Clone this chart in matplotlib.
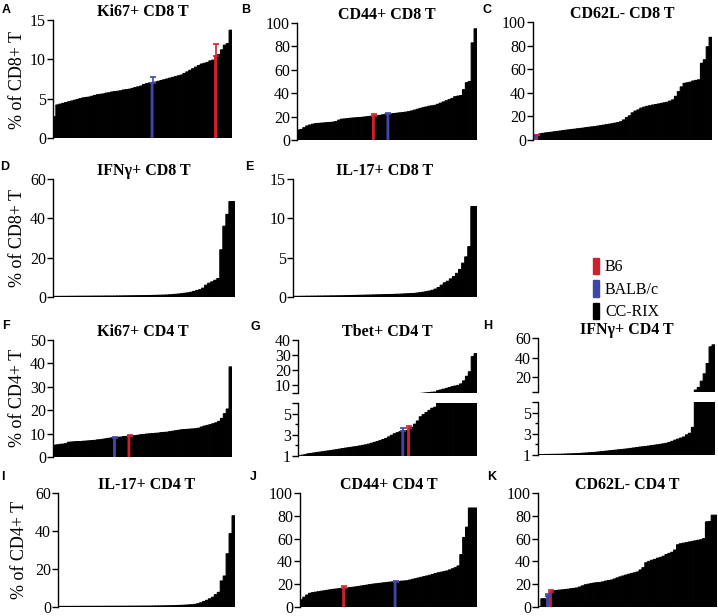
import numpy as np
import matplotlib
matplotlib.use('Agg')
import matplotlib.pyplot as plt
from matplotlib.patches import Patch

plt.rcParams['font.family'] = ['Liberation Serif', 'DejaVu Serif']

RED = '#d0202e'
BLUE = '#4046a8'
W, H = 718, 616

# CC-RIX line means, sorted; B6 and BALB/c given as (mean, sd)
ki67_cd8 = [2.7, 4.2, 4.3, 4.4, 4.5, 4.6, 4.7, 4.8, 4.9, 5.0, 5.1, 5.15, 5.2, 5.3, 5.4, 5.5,
            5.55, 5.6, 5.7, 5.75, 5.85, 5.9, 5.95, 6.0, 6.1, 6.15, 6.2, 6.3, 6.4, 6.5, 6.6,
            6.8, 6.9, 7.0, 7.1, 7.2, 7.3, 7.4, 7.5, 7.6, 7.7, 7.8, 7.9, 8.0, 8.2, 8.4, 8.6,
            8.8, 9.0, 9.2, 9.4, 9.5, 9.6, 9.8, 9.9, 10.6, 11.2, 11.8, 12.0, 13.7]
ki67_cd8_b6 = (10.4, 1.5)
ki67_cd8_balb = (7.0, 0.7)

cd44_cd8 = [8.5, 9, 10.5, 12, 12.8, 13.5, 14, 14.2, 14.4, 14.6, 14.8, 15, 15.3, 15.8, 17,
            17.8, 18, 18.3, 18.6, 18.8, 19, 19.2, 19.4, 19.7, 20, 20.3, 20.7, 21, 21.5, 22,
            22.3, 22.6, 22.9, 23.2, 23.5, 23.8, 24.2, 24.8, 25.5, 26.2, 27, 27.6, 28.2, 28.8,
            29.2, 29.6, 30.5, 31.5, 32.5, 33.5, 34.5, 35.5, 37, 37.5, 38, 43, 49, 50, 83, 95]
cd44_cd8_b6 = (20.5, 1.5)
cd44_cd8_balb = (22.2, 1.0)

cd62l_cd8 = [5.2, 5.6, 6, 6.3, 6.6, 7, 7.3, 7.6, 8, 8.3, 8.6, 8.9, 9.2, 9.5, 9.8, 10.1, 10.5,
             10.8, 11.1, 11.4, 11.8, 12.2, 12.6, 13, 13.4, 13.8, 14.3, 14.8, 15.5, 17, 19,
             20.5, 23, 24.5, 25.5, 27, 27.8, 28.5, 29, 29.6, 30, 30.5, 31, 31.5, 32, 33, 34,
             37, 41, 45, 48, 48.5, 49, 50, 50.5, 51, 65, 68, 79, 87]
cd62l_cd8_b6 = (4.0, 0.5)
cd62l_cd8_balb = (2.5, 0.5)

ifng_cd8 = [0.3, 0.3, 0.32, 0.33, 0.34, 0.35, 0.36, 0.37, 0.38, 0.39, 0.4, 0.41, 0.42, 0.43,
            0.44, 0.45, 0.46, 0.47, 0.48, 0.49, 0.5, 0.52, 0.54, 0.56, 0.58, 0.6, 0.62, 0.64,
            0.66, 0.68, 0.7, 0.74, 0.78, 0.82, 0.86, 0.9, 0.95, 1.0, 1.1, 1.2, 1.35, 1.5, 1.7,
            1.9, 2.1, 2.4, 2.8, 3.3, 3.7, 4.5, 6, 7, 7.7, 8.5, 9.4, 24, 36, 42, 48.5, 48.5]

il17_cd8 = [0.08, 0.08, 0.09, 0.09, 0.1, 0.1, 0.11, 0.11, 0.12, 0.12, 0.13, 0.13, 0.14, 0.14,
            0.15, 0.15, 0.16, 0.17, 0.18, 0.19, 0.2, 0.21, 0.22, 0.23, 0.24, 0.25, 0.26, 0.27,
            0.28, 0.29, 0.3, 0.31, 0.32, 0.34, 0.35, 0.37, 0.39, 0.41, 0.43, 0.45, 0.5, 0.55,
            0.6, 0.67, 0.75, 0.85, 1.0, 1.2, 1.5, 1.8, 2.0, 2.3, 2.6, 3.0, 3.5, 4.3, 5.1, 6.4,
            11.5, 11.5]

ki67_cd4 = [5, 5.2, 5.4, 5.5, 5.7, 6.3, 6.4, 6.5, 6.6, 6.6, 6.7, 6.8, 6.9, 7.0, 7.1, 7.3, 7.4,
            7.6, 7.8, 8.0, 8.2, 8.4, 8.5, 8.7, 8.8, 9.0, 9.1, 9.3, 9.5, 9.6, 9.8, 9.9, 10.0,
            10.1, 10.2, 10.4, 10.5, 10.6, 10.8, 11.0, 11.2, 11.4, 11.6, 11.7, 11.8, 11.9, 12.0,
            12.1, 12.3, 12.8, 13.2, 13.5, 13.8, 14.2, 14.6, 15.2, 16.5, 18.5, 20.5, 38.5]
ki67_cd4_b6 = (8.8, 0.6)
ki67_cd4_balb = (8.3, 0.4)

tbet_cd4 = [1.02, 1.08, 1.12, 1.2, 1.24, 1.28, 1.32, 1.36, 1.4, 1.44, 1.48, 1.52, 1.56, 1.6,
            1.65, 1.7, 1.74, 1.78, 1.82, 1.86, 1.9, 1.95, 2.0, 2.05, 2.12, 2.2, 2.28, 2.36,
            2.45, 2.55, 2.65, 2.8, 2.95, 3.1, 3.2, 3.3, 3.4, 3.7, 4.0, 4.3, 4.7, 4.9, 5.1, 5.3,
            5.5, 5.6, 6.5, 7.0, 7.5, 8.0, 8.6, 9.2, 9.6, 10.0, 11.0, 13.0, 16.0, 19.0, 29.0, 31.0]
tbet_cd4_b6 = (3.6, 0.25)
tbet_cd4_balb = (3.35, 0.3)

ifng_cd4 = [1.04, 1.04, 1.05, 1.05, 1.06, 1.06, 1.07, 1.07, 1.08, 1.09, 1.1, 1.11, 1.12, 1.13,
            1.15, 1.17, 1.19, 1.21, 1.23, 1.25, 1.28, 1.31, 1.34, 1.37, 1.4, 1.43, 1.46, 1.49,
            1.52, 1.55, 1.58, 1.62, 1.66, 1.7, 1.74, 1.77, 1.8, 1.84, 1.88, 1.92, 1.96, 2.0,
            2.05, 2.1, 2.18, 2.28, 2.4, 2.5, 2.6, 2.7, 2.9, 3.05, 3.6, 7.0, 9.6, 16, 23.5, 34,
            51, 53]

il17_cd4 = [0.3, 0.3, 0.3, 0.31, 0.31, 0.32, 0.32, 0.33, 0.33, 0.34, 0.34, 0.35, 0.35, 0.36,
            0.36, 0.37, 0.37, 0.38, 0.38, 0.39, 0.39, 0.4, 0.4, 0.41, 0.42, 0.43, 0.44, 0.45,
            0.46, 0.47, 0.48, 0.5, 0.52, 0.54, 0.56, 0.58, 0.6, 0.64, 0.68, 0.72, 0.78, 0.85, 0.9,
            1.0, 1.1, 1.2, 1.4, 1.7, 2.2, 2.9, 3.5, 4.3, 5.1, 6.5, 7.7, 13.7, 16.3, 28, 38.6, 48]

cd44_cd4 = [6.3, 8.6, 10.5, 12, 12.6, 13, 13.4, 13.8, 14.2, 14.6, 15, 15.4, 15.7, 16, 16.3,
            16.6, 17, 17.3, 17.6, 18, 18.4, 18.8, 19.2, 19.6, 20, 20.3, 20.6, 20.9, 21.2, 21.5,
            21.8, 22, 22.3, 22.6, 22.8, 23, 23.6, 24.2, 24.8, 25.4, 26, 26.6, 27.2, 27.8, 28.5,
            29.3, 30, 30.5, 31, 31.6, 32.5, 33.5, 34.5, 36, 46, 61, 70, 86.8, 86.8, 86.8]
cd44_cd4_b6 = (16.4, 1.6)
cd44_cd4_balb = (22.1, 1.0)

cd62l_cd4 = [0.3, 7.2, 7.2, 14.2, 14.5, 14.8, 15, 15.3, 15.6, 16, 16.3, 16.7, 17.5, 18.5, 19.5,
             20, 20.5, 21, 21.3, 21.5, 22, 22.7, 23.2, 23.6, 24.5, 25.5, 26.4, 27.2, 28, 28.7,
             29.4, 30, 30.7, 32.5, 34.5, 38.8, 40, 41, 41.7, 42.8, 43.5, 44.5, 46, 47, 48, 50,
             54.6, 55.5, 56, 56.5, 57, 57.5, 58, 58.5, 59, 60, 74.7, 75, 80.5, 80.5]
cd62l_cd4_b6 = (13.0, 1.5)
cd62l_cd4_balb = (10.0, 1.0)


def px(l, r, t, b):
    return [l / W, 1 - b / H, (r - l) / W, (b - t) / H]


def draw(ax, cc, b6=None, balb=None):
    vals = list(cc)
    kinds = ['cc'] * len(cc)
    if b6 is not None:
        vals.append(b6[0]); kinds.append('b6')
    if balb is not None:
        vals.append(balb[0]); kinds.append('balb')
    order = np.argsort(vals, kind='stable')
    v = np.array(vals)[order]
    k = [kinds[i] for i in order]
    col = {'cc': 'black', 'b6': RED, 'balb': BLUE}
    c = [col[i] for i in k]
    x = np.arange(len(v))
    bars = ax.bar(x, v, width=1.0, align='edge', color=c, edgecolor=c, linewidth=0.8)
    for b in bars:
        b.set_snap(False)
    for name, d in (('b6', b6), ('balb', balb)):
        if d is None:
            continue
        i = k.index(name)
        ax.errorbar(i + 0.5, d[0], yerr=[[0], [d[1]]], fmt='none', ecolor=col[name],
                    capsize=2.5, elinewidth=1.2, capthick=1.2)
    ax.set_xlim(0, len(v))


def style(ax, ylim, ticks, labels=None, hide=('top', 'right', 'bottom')):
    ax.set_ylim(*ylim)
    ax.set_yticks(ticks)
    if labels is not None:
        ax.set_yticklabels(labels)
    for s in hide:
        ax.spines[s].set_visible(False)
    ax.spines['left'].set_linewidth(1)
    ax.spines['left'].set_zorder(5)
    ax.set_xticks([])
    ax.tick_params(axis='y', direction='out', length=4, width=1, labelsize=11.5, pad=1)


def title(ax, text):
    ax.set_title(text, fontsize=11.5, fontweight='bold', pad=3)


fig = plt.figure(figsize=(7.18, 6.16), dpi=100)

# simple panels
simple = [
    ('Ki67+ CD8 T', ki67_cd8, ki67_cd8_b6, ki67_cd8_balb, (53, 232, 20, 138), (0, 15), [0, 5, 10, 15]),
    ('CD44+ CD8 T', cd44_cd8, cd44_cd8_b6, cd44_cd8_balb, (297, 477, 23, 140), (0, 100), [0, 20, 40, 60, 80, 100]),
    ('CD62L- CD8 T', cd62l_cd8, cd62l_cd8_b6, cd62l_cd8_balb, (533, 712, 22, 140), (0, 100), [0, 20, 40, 60, 80, 100]),
    ('IFN\u03b3+ CD8 T', ifng_cd8, None, None, (53, 235, 179, 297), (0, 60), [0, 20, 40, 60]),
    ('IL-17+ CD8 T', il17_cd8, None, None, (293, 477, 179, 297), (0, 15), [0, 5, 10, 15]),
    ('Ki67+ CD4 T', ki67_cd4, ki67_cd4_b6, ki67_cd4_balb, (53, 232, 340, 457), (0, 50), [0, 10, 20, 30, 40, 50]),
    ('IL-17+ CD4 T', il17_cd4, None, None, (58, 235, 493, 607), (0, 60), [0, 20, 40, 60]),
    ('CD44+ CD4 T', cd44_cd4, cd44_cd4_b6, cd44_cd4_balb, (300, 477, 493, 607), (0, 100), [0, 20, 40, 60, 80, 100]),
    ('CD62L- CD4 T', cd62l_cd4, cd62l_cd4_b6, cd62l_cd4_balb, (538, 717, 493, 607), (0, 100), [0, 20, 40, 60, 80, 100]),
]
for name, cc, b6, balb, box, ylim, ticks in simple:
    ax = fig.add_axes(px(*box))
    draw(ax, cc, b6, balb)
    style(ax, ylim, ticks)
    title(ax, name)

# broken-axis panels (G, H)
broken = [
    ('Tbet+ CD4 T', tbet_cd4, tbet_cd4_b6, tbet_cd4_balb, (298, 477, 340, 393, 403, 456),
     (5, 40), [5, 10, 20, 30, 40], ['', '10', '20', '30', '40']),
    ('IFN\u03b3+ CD4 T', ifng_cd4, None, None, (538, 715, 338, 392, 402, 455),
     (5, 60), [5, 20, 40, 60], ['', '20', '40', '60']),
]
for name, cc, b6, balb, box, ylim, ticks, labels in broken:
    l, r, t1, b1, t2, b2 = box
    top = fig.add_axes(px(l, r, t1, b1))
    low = fig.add_axes(px(l, r, t2, b2))
    draw(top, cc, b6, balb)
    draw(low, cc, b6, balb)
    style(top, ylim, ticks, labels)
    style(low, (1, 6), [1, 3, 5, 6], ['1', '3', '5', ''])
    low.set_yticks([2, 4], minor=True)
    low.tick_params(axis='y', which='minor', direction='out', length=2.5, width=1)
    title(top, name)

# y labels
fig.text(18 / W, 1 - 80 / H, '% of CD8+ T', rotation=90, ha='center', va='center', fontsize=13)
fig.text(18 / W, 1 - 238 / H, '% of CD8+ T', rotation=90, ha='center', va='center', fontsize=13)
fig.text(18 / W, 1 - 398 / H, '% of CD4+ T', rotation=90, ha='center', va='center', fontsize=13)
fig.text(20 / W, 1 - 550 / H, '% of CD4+ T', rotation=90, ha='center', va='center', fontsize=13)

# panel letters
letters = [('A', 6, 10), ('B', 246, 10), ('C', 487, 10), ('D', 5, 167), ('E', 249, 167),
           ('F', 6, 326), ('G', 255, 327), ('H', 488, 326), ('I', 3, 477), ('J', 253, 477),
           ('K', 492, 477)]
for s, x, y in letters:
    fig.text(x / W, 1 - y / H, s, ha='center', va='center', fontsize=9, fontweight='bold',
             family=['Liberation Sans', 'DejaVu Sans'])

handles = [Patch(color=RED, label='B6'), Patch(color=BLUE, label='BALB/c'),
           Patch(color='black', label='CC-RIX')]
fig.legend(handles=handles, loc='center left', bbox_to_anchor=(585 / W, 1 - 289 / H),
           frameon=False, fontsize=11.5, handlelength=0.35, handleheight=1.2,
           handletextpad=0.4, labelspacing=0.3, borderpad=0)

fig.savefig('out.png', dpi=100)
